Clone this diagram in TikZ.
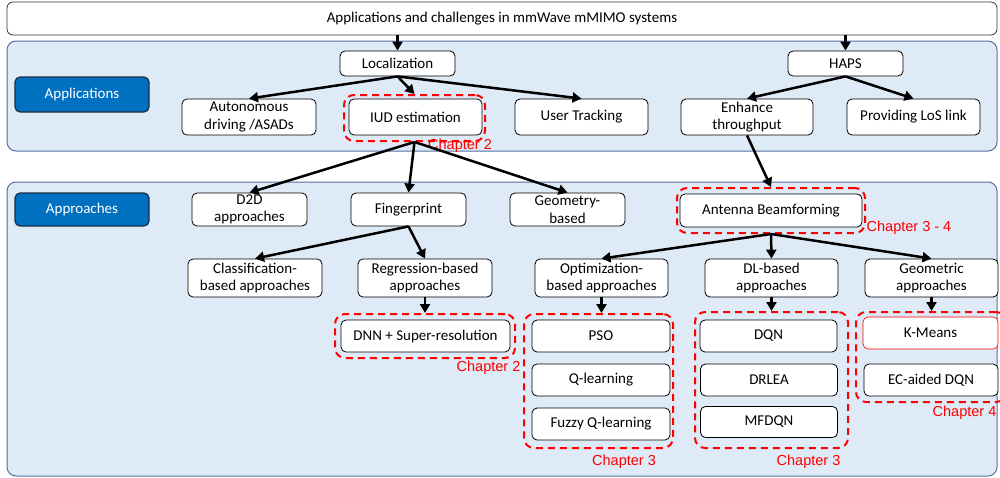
\documentclass[tikz,border=0pt]{standalone}
\usepackage{fontspec}
\setmainfont{Carlito}
\newfontfamily\arialf{Liberation Sans}
\usetikzlibrary{arrows.meta}
\definecolor{panelfill}{RGB}{222,234,246}
\definecolor{paneldraw}{RGB}{84,112,160}
\definecolor{hdrfill}{RGB}{0,112,192}
\definecolor{hdrdraw}{RGB}{30,45,65}
\definecolor{chapred}{RGB}{255,0,0}
\tikzset{
  box/.style={draw=black, line width=0.8pt, fill=white, rounded corners=5pt, align=center,
    inner sep=0pt, font=\fontsize{15}{17.5}\selectfont},
  hdr/.style={draw=hdrdraw, line width=1.2pt, fill=hdrfill, text=white, rounded corners=5pt,
    align=center, inner sep=0pt, font=\fontsize{15}{17.5}\selectfont},
  panel/.style={draw=paneldraw, line width=1pt, fill=panelfill, rounded corners=9pt},
  chapbox/.style={draw=chapred, line width=2pt, dash pattern=on 7pt off 5pt, rounded corners=10pt,
    inner sep=0pt},
  chaplabel/.style={text=chapred, font=\arialf\fontsize{14.5}{16}\selectfont, inner sep=0pt},
  arr/.style={draw=black, line width=2.5pt, -{Triangle[length=9pt,width=10pt]}},
}
\begin{document}
\begin{tikzpicture}[x=1pt,y=-1pt]
\useasboundingbox (0,0) rectangle (1000,477);
% panels
\draw[panel] (7,41) rectangle (997,151);
\draw[panel] (7,182) rectangle (997,476);
% top box
\node[box, draw=black!80, minimum width=990pt, minimum height=33pt, rounded corners=6pt] (top) at (502,18.5) {Applications and challenges in mmWave mMIMO systems};
% headers
\node[hdr, minimum width=134pt, minimum height=35pt] (apps) at (82,94.5) {Applications};
\node[hdr, minimum width=134pt, minimum height=33pt] (appr) at (82,209.5) {Approaches};
% applications row
\node[box, minimum width=115pt, minimum height=25pt] (loc) at (397.5,63.5) {Localization};
\node[box, minimum width=115pt, minimum height=25pt] (haps) at (845.5,63.5) {HAPS};
\node[box, minimum width=134pt, minimum height=36pt] (aut) at (249,117) {Autonomous\\driving /ASADs};
\node[box, minimum width=133pt, minimum height=36pt] (iud) at (415.5,117) {IUD estimation};
\node[chapbox, minimum width=141pt, minimum height=46pt] (iudf) at (414.5,118) {};
\node[box, minimum width=133pt, minimum height=36pt] (ut) at (581.5,117) {User Tracking};
\node[box, minimum width=132pt, minimum height=36pt] (enh) at (747,117) {Enhance\\throughput};
\node[box, minimum width=133pt, minimum height=36pt] (los) at (913.5,117) {Providing LoS link};
% approaches row 1
\node[box, minimum width=115pt, minimum height=33pt] (d2d) at (249.5,209.5) {D2D\\approaches};
\node[box, minimum width=115pt, minimum height=33pt] (fp) at (408.5,209.5) {Fingerprint};
\node[box, minimum width=115pt, minimum height=33pt] (geo) at (567.5,209.5) {Geometry-\\based};
\node[box, minimum width=182pt, minimum height=33pt] (ab) at (771,210.5) {Antenna Beamforming};
\node[chapbox, minimum width=188pt, minimum height=45pt] (abf) at (771,210.5) {};
% approaches row 2
\node[box, minimum width=134pt, minimum height=38pt] (cls) at (255,278) {Classification-\\based approaches};
\node[box, minimum width=134pt, minimum height=38pt] (reg) at (425,278) {Regression-based\\approaches};
\node[box, minimum width=133pt, minimum height=38pt] (opt) at (601.5,278) {Optimization-\\based approaches};
\node[box, minimum width=133pt, minimum height=38pt] (dl) at (771.5,278) {DL-based\\approaches};
\node[box, minimum width=133pt, minimum height=38pt] (gm) at (931.5,278) {Geometric\\approaches};
% methods
\node[box, minimum width=169pt, minimum height=32pt] (dnn) at (425.5,336) {DNN + Super-resolution};
\node[chapbox, minimum width=180pt, minimum height=44pt] (dnnf) at (425,336) {};
\node[box, minimum width=138pt, minimum height=32pt] (pso) at (601,336) {PSO};
\node[box, minimum width=138pt, minimum height=32pt] (ql) at (601,380) {Q-learning};
\node[box, minimum width=138pt, minimum height=32pt] (fql) at (601,424) {Fuzzy Q-learning};
\node[chapbox, minimum width=149pt, minimum height=134pt] (optf) at (598.5,381) {};
\node[box, minimum width=137pt, minimum height=32pt] (dqn) at (768.5,336) {DQN};
\node[box, minimum width=137pt, minimum height=32pt] (drlea) at (769,380) {DRLEA};
\node[box, minimum width=137pt, minimum height=31pt] (mfdqn) at (769,422) {MFDQN};
\node[chapbox, minimum width=153pt, minimum height=136pt] (dlf) at (771.5,380) {};
\node[box, draw=chapred, line width=0.6pt, minimum width=135pt, minimum height=32pt] (km) at (930.5,333) {K-Means};
\node[box, minimum width=134pt, minimum height=32pt] (ec) at (931,380) {EC-aided DQN};
\node[chapbox, minimum width=150pt, minimum height=90pt] (gmf) at (931,357) {};
% chapter labels
\node[chaplabel] (c1) at (460,146) {Chapter 2};
\node[chaplabel] (c2) at (909,228) {Chapter 3 - 4};
\node[chaplabel] (c3) at (488.5,368) {Chapter 2};
\node[chaplabel] (c4) at (624,462) {Chapter 3};
\node[chaplabel] (c5) at (808.5,462) {Chapter 3};
\node[chaplabel] (c6) at (964.5,413) {Chapter 4};
% arrows
\draw[arr] (top.south -| loc.north) -- (loc.north);
\draw[arr] (top.south -| haps.north) -- (haps.north);
\draw[arr] (loc.south) -- (aut.north);
\draw[arr] (loc.south) -- (iudf.north);
\draw[arr] (loc.south) -- (ut.north);
\draw[arr] (haps.south) -- (enh.north);
\draw[arr] (haps.south) -- (los.north);
\draw[arr] (iudf.south) -- (d2d.north);
\draw[arr] (iudf.south) -- (fp.north);
\draw[arr] (iudf.south) -- (geo.north);
\draw[arr] (enh.south) -- (abf.north);
\draw[arr] (fp.south) -- (cls.north);
\draw[arr] (fp.south) -- (reg.north);
\draw[arr] (abf.south) -- (opt.north);
\draw[arr] (abf.south) -- (dl.north);
\draw[arr] (abf.south) -- (gm.north);
\draw[arr] (reg.south) -- (dnnf.north);
\draw[arr] (opt.south) -- (optf.north -| opt.south);
\draw[arr] (dl.south) -- (dlf.north -| dl.south);
\draw[arr] (gm.south) -- (gmf.north -| gm.south);
\end{tikzpicture}
\end{document}
